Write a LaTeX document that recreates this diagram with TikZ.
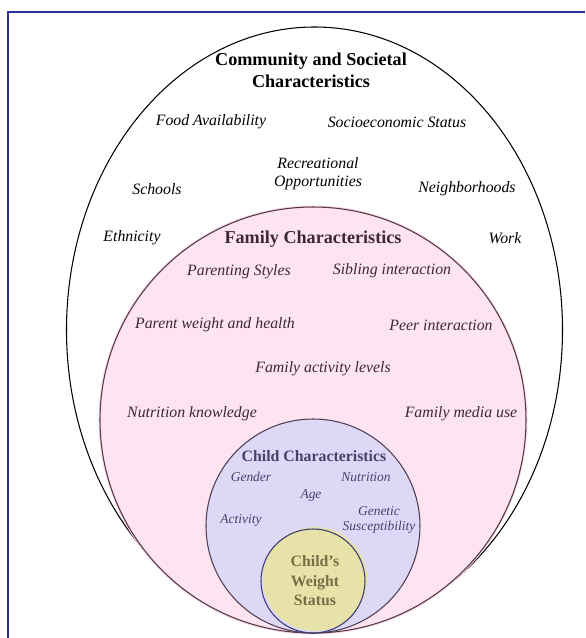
\documentclass[tikz,border=0pt]{standalone}
\usepackage{fontspec}
\setmainfont{Liberation Serif}
\usepackage{tikz}

\definecolor{framecol}{RGB}{46,46,158}
\definecolor{famfill}{RGB}{253,228,240}
\definecolor{famhalo}{RGB}{250,214,232}
\definecolor{famline}{RGB}{80,56,68}
\definecolor{famtext}{RGB}{58,42,50}
\definecolor{childfill}{RGB}{221,216,245}
\definecolor{childline}{RGB}{78,62,84}
\definecolor{childtext}{RGB}{70,66,108}
\definecolor{wtfill}{RGB}{231,226,168}
\definecolor{wtline}{RGB}{58,58,118}
\definecolor{wttext}{RGB}{118,112,72}

\tikzset{
	ring/.style={line width=0.9pt},
	head/.style={font=\fontsize{15.5}{18.5}\selectfont\bfseries, align=center, inner sep=0pt},
	item/.style={font=\fontsize{13.5}{15.2}\selectfont\itshape, align=center, inner sep=0pt},
	small/.style={font=\fontsize{11.5}{12.8}\selectfont\itshape, align=center, inner sep=0pt, text=childtext}
}

\begin{document}
\begin{tikzpicture}[x=0.3mm,y=-0.3mm]
	\useasboundingbox (0,0) rectangle (585,638);
	\fill[white] (0,0) rectangle (585,638);
	\draw[framecol, line width=1.6pt] (8,638) -- (8,12) -- (585,12);
	%
	% the nested rings
	\draw[ring, black] (314.5,330) ellipse [x radius=248, y radius=303];
	\draw[famhalo, line width=2.5pt] (313,420) circle [radius=213];
	\draw[ring, famline, fill=famfill] (313,420) circle [radius=213];
	\draw[ring, childline, fill=childfill] (313,526) circle [radius=107];
	\fill[wtfill] (315,579) circle [radius=52];
	\draw[ring, wtline] (313,581) circle [radius=52];
	%
	% community level
	\node[head] (comm) at (311,70) {Community and Societal\\Characteristics};
	\node[item] (food) at (211,122) {Food Availability};
	\node[item] (socio) at (397,122) {Socioeconomic Status};
	\node[item] (recr) at (318,174) {Recreational\\Opportunities};
	\node[item] (schools) at (157,189) {Schools};
	\node[item] (hoods) at (467,189) {Neighborhoods};
	\node[item] (ethn) at (132,238) {Ethnicity};
	\node[item] (work) at (505,238) {Work};
	%
	% family level
	\node[head, text=famtext] (fam) at (313,239) {Family Characteristics};
	\node[item, text=famtext] (parenting) at (239,272) {Parenting Styles};
	\node[item, text=famtext] (sibling) at (392,271) {Sibling interaction};
	\node[item, text=famtext] (parentwt) at (215,325) {Parent weight and health};
	\node[item, text=famtext] (peer) at (441,325) {Peer interaction};
	\node[item, text=famtext] (famact) at (323,369) {Family activity levels};
	\node[item, text=famtext] (nutrknow) at (192,414) {Nutrition knowledge};
	\node[item, text=famtext] (media) at (461,414) {Family media use};
	%
	% child level
	\node[head, text=childtext, font=\fontsize{13.5}{16}\selectfont\bfseries] (child) at (314,456) {Child Characteristics};
	\node[small] (gender) at (251,477) {Gender};
	\node[small] (nutr) at (366,477) {Nutrition};
	\node[small] (age) at (311,495) {Age};
	\node[small] (genetic) at (379,520) {Genetic\\Susceptibility};
	\node[small] (activity) at (241,520) {Activity};
	%
	\node[head, text=wttext, font=\fontsize{13.5}{16.6}\selectfont\bfseries] (weight) at (315,581) {Child's\\Weight\\Status};
\end{tikzpicture}
\end{document}
